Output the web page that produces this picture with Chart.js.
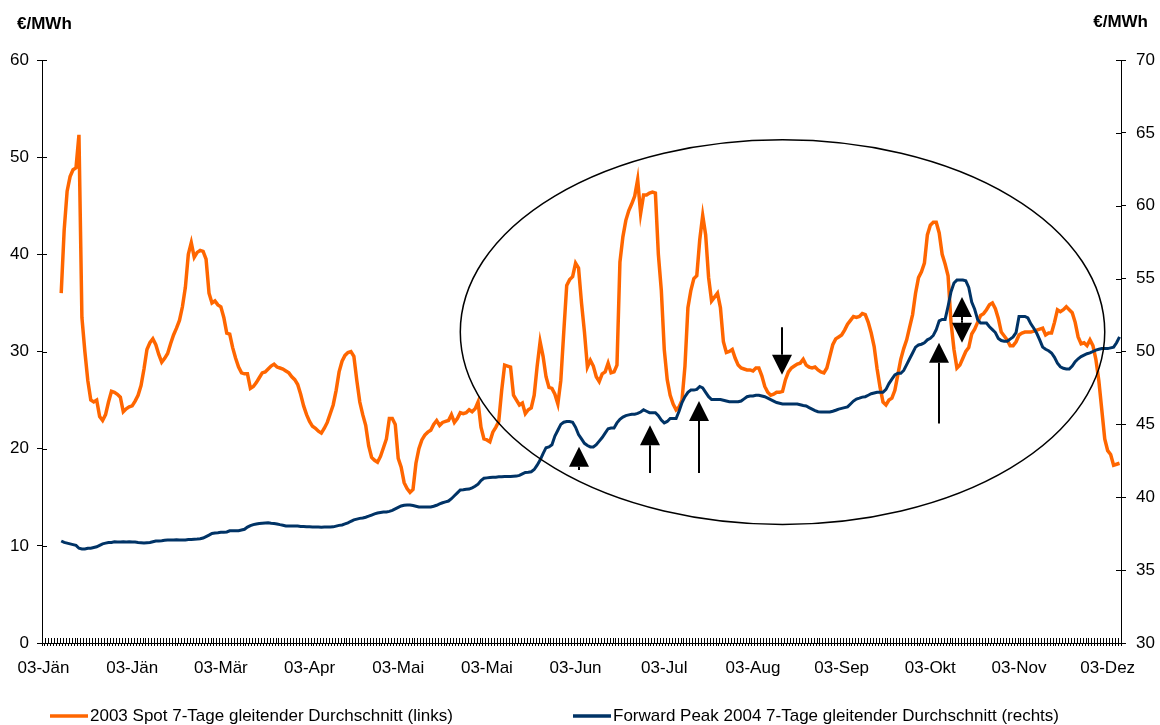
<!DOCTYPE html>
<html lang="de">
<head>
<meta charset="utf-8">
<title>Spot 2003 / Forward Peak 2004</title>
<script src="https://cdn.jsdelivr.net/npm/chart.js@4.4.1/dist/chart.umd.min.js"></script>
<style>
  html, body { margin: 0; padding: 0; background: #fff; }
  #chart-box { width: 1160px; height: 725px; }
</style>
</head>
<body>
<div id="chart-box"><canvas id="price-chart" width="1160" height="725"></canvas></div>
<script>
// x axis: one category per day, a label every 30 days
const tickLabels = ["03-Jän", "03-Jän", "03-Mär", "03-Apr", "03-Mai", "03-Mai", "03-Jun",
                    "03-Jul", "03-Aug", "03-Sep", "03-Okt", "03-Nov", "03-Dez"];
const labelStep = 30;
const dayCount = 365;
const leadDays = 6; // 7-day average has no value for the first days

// €/MWh, left axis
const spot2003 = [
  36.0, 42.5, 46.5, 48.0,
  48.7, 48.9, 52.3, 33.5, 30.0, 27.0, 25.0, 24.8, 25.0, 23.3,
  22.9, 23.5, 24.8, 25.9, 25.8, 25.6, 25.3, 23.8, 24.1, 24.3,
  24.4, 24.9, 25.5, 26.5, 28.2, 30.2, 30.9, 31.3, 30.7, 29.7,
  28.9, 29.3, 29.8, 30.8, 31.7, 32.4, 33.2, 34.6, 36.6, 40.0,
  41.2, 39.7, 40.2, 40.4, 40.3, 39.5, 36.0, 35.0, 35.2, 34.8,
  34.6, 33.5, 31.9, 31.8, 30.4, 29.3, 28.4, 27.8, 27.7, 27.7,
  26.2, 26.4, 26.8, 27.3, 27.8, 27.9, 28.2, 28.5, 28.7, 28.4,
  28.3, 28.2, 28.0, 27.8, 27.4, 27.1, 26.6, 25.6, 24.4, 23.5,
  22.8, 22.3, 22.1, 21.8, 21.6, 22.1, 22.7, 23.6, 24.5, 26.0,
  27.9, 29.0, 29.6, 29.9, 30.0, 29.5, 27.0, 24.8, 23.5, 22.4,
  20.3, 19.1, 18.8, 18.6, 19.2, 20.1, 21.0, 23.1, 23.1, 22.5,
  19.0, 18.1, 16.5, 15.9, 15.5, 15.8, 18.5, 20.0, 20.9, 21.4,
  21.7, 21.9, 22.5, 22.9, 22.4, 22.7, 22.8, 22.9, 23.5, 22.7,
  23.1, 23.7, 23.6, 23.7, 24.0, 23.8, 24.1, 24.8, 22.2, 21.0,
  20.9, 20.7, 21.7, 22.2, 22.8, 26.0, 28.6, 28.5, 28.4, 25.5,
  25.0, 24.5, 24.7, 23.6, 24.0, 24.2, 25.5, 28.5, 31.0, 29.5,
  27.4, 26.3, 26.2, 25.6, 24.6, 27.0, 32.0, 36.8, 37.4, 37.7,
  39.1, 38.6, 35.0, 32.0, 28.4, 29.1, 28.5, 27.4, 26.9, 27.7,
  27.9, 28.8, 27.8, 27.9, 28.6, 39.2, 41.8, 43.5, 44.5, 45.2,
  46.0, 47.7, 44.2, 46.1, 46.1, 46.3, 46.4, 46.3, 40.0, 36.3,
  30.2, 27.1, 25.5, 24.6, 24.0, 24.3, 25.0, 28.5, 34.5, 36.3,
  37.5, 37.8, 41.5, 44.0, 42.0, 37.6, 35.2, 35.6, 36.0, 34.5,
  31.0, 29.9, 30.0, 30.2, 29.3, 28.6, 28.3, 28.2, 28.1, 28.1,
  28.0, 28.3, 28.3, 27.5, 26.4, 25.8, 25.5, 25.6, 25.8, 25.8,
  25.9, 27.1, 27.9, 28.3, 28.5, 28.7, 28.8, 29.2, 28.6, 28.4,
  28.3, 28.4, 28.1, 27.9, 27.8, 28.3, 29.5, 30.7, 31.3, 31.5,
  31.7, 32.2, 32.8, 33.2, 33.6, 33.5, 33.6, 33.9, 33.8, 33.0,
  31.9, 30.5, 28.2, 26.3, 24.8, 24.5, 25.0, 25.2, 26.0, 27.6,
  29.2, 30.3, 31.2, 32.5, 33.8, 36.0, 37.6, 38.2, 39.1, 42.0,
  43.0, 43.3, 43.3, 42.2, 40.0, 39.0, 37.8, 33.0, 30.2, 28.3,
  28.6, 29.3, 30.0, 30.4, 31.8, 32.3, 33.0, 33.7, 33.9, 34.3,
  34.8, 35.0, 34.4, 33.4, 32.0, 31.6, 31.2, 30.6, 30.6, 31.0,
  31.7, 31.9, 32.0, 32.0, 32.0, 32.1, 32.2, 32.3, 32.4, 31.7,
  31.9, 31.9, 33.0, 34.3, 34.1, 34.3, 34.6, 34.3, 34.0, 33.0,
  31.5, 30.8, 30.9, 30.6, 31.2, 30.6, 29.2, 27.0, 24.0, 21.0,
  19.8, 19.4, 18.3, 18.4, 18.5
];

// €/MWh, right axis
const forwardPeak2004 = [
  37.0, 36.9, 36.85, 36.8,
  36.75, 36.7, 36.5, 36.45, 36.45, 36.5, 36.5, 36.55, 36.6, 36.7,
  36.8, 36.85, 36.9, 36.9, 36.95, 36.93, 36.93, 36.95, 36.93, 36.95,
  36.93, 36.93, 36.9, 36.88, 36.86, 36.88, 36.9, 36.95, 37.0, 37.0,
  37.02, 37.05, 37.07, 37.07, 37.07, 37.08, 37.07, 37.07, 37.07, 37.1,
  37.1, 37.12, 37.13, 37.15, 37.2, 37.3, 37.4, 37.52, 37.55, 37.57,
  37.6, 37.6, 37.62, 37.7, 37.7, 37.7, 37.7, 37.75, 37.8, 37.95,
  38.05, 38.12, 38.17, 38.2, 38.22, 38.24, 38.25, 38.22, 38.2, 38.17,
  38.12, 38.08, 38.03, 38.03, 38.03, 38.03, 38.03, 38.0, 38.0, 37.98,
  37.98, 37.96, 37.96, 37.96, 37.95, 37.96, 37.96, 37.96, 37.97, 38.02,
  38.07, 38.1, 38.17, 38.24, 38.35, 38.45, 38.5, 38.55, 38.58, 38.63,
  38.7, 38.78, 38.86, 38.92, 38.95, 38.98, 38.99, 39.03, 39.1, 39.2,
  39.3, 39.4, 39.45, 39.47, 39.47, 39.43, 39.38, 39.33, 39.33, 39.33,
  39.33, 39.33, 39.38, 39.45, 39.54, 39.62, 39.68, 39.74, 39.9, 40.1,
  40.3, 40.5, 40.52, 40.55, 40.56, 40.65, 40.75, 40.9, 41.15, 41.3,
  41.33, 41.35, 41.37, 41.38, 41.4, 41.4, 41.42, 41.42, 41.43, 41.44,
  41.45, 41.5, 41.6, 41.7, 41.72, 41.75, 41.9, 42.2, 42.55, 43.0,
  43.4, 43.45, 43.6, 44.2, 44.6, 45.0, 45.15, 45.2, 45.2, 45.15,
  44.8, 44.3, 44.0, 43.7, 43.55, 43.45, 43.45, 43.6, 43.85, 44.1,
  44.4, 44.7, 44.75, 44.75, 45.1, 45.35, 45.5, 45.6, 45.65, 45.7,
  45.7, 45.75, 45.85, 46.0, 45.9, 45.8, 45.8, 45.8, 45.6, 45.3,
  45.1, 45.2, 45.4, 45.4, 45.4, 45.9, 46.5, 46.9, 47.2, 47.35,
  47.35, 47.4, 47.6, 47.5, 47.2, 46.9, 46.7, 46.7, 46.7, 46.7,
  46.65, 46.6, 46.55, 46.55, 46.55, 46.55, 46.6, 46.75, 46.9, 46.95,
  46.95, 47.0, 47.0, 46.95, 46.9, 46.8, 46.7, 46.6, 46.5, 46.45,
  46.4, 46.4, 46.4, 46.4, 46.4, 46.4, 46.35, 46.3, 46.26, 46.15,
  46.05, 45.95, 45.87, 45.85, 45.85, 45.85, 45.85, 45.9, 45.97, 46.05,
  46.1, 46.15, 46.2, 46.4, 46.6, 46.74, 46.8, 46.87, 46.9, 47.0,
  47.1, 47.15, 47.2, 47.2, 47.2, 47.4, 47.8, 48.1, 48.4, 48.5,
  48.5, 48.7, 49.1, 49.5, 49.9, 50.3, 50.45, 50.5, 50.6, 50.8,
  50.9, 51.1, 51.5, 52.1, 52.2, 52.2, 53.1, 54.1, 54.7, 54.9,
  54.9, 54.9, 54.85, 54.4, 53.4, 52.9, 52.2, 51.95, 51.95, 51.95,
  51.7, 51.5, 51.3, 50.9, 50.75, 50.7, 50.7, 50.85, 51.0, 51.3,
  52.4, 52.4, 52.4, 52.3, 51.9, 51.6, 51.25, 50.8, 50.3, 50.15,
  50.05, 49.9, 49.6, 49.2, 48.95, 48.85, 48.8, 48.8, 49.0, 49.3,
  49.5, 49.65, 49.75, 49.85, 49.9, 50.0, 50.1, 50.15, 50.2, 50.2,
  50.2, 50.25, 50.3, 50.6, 51.0
];

const seriesNames = ["2003 Spot 7-Tage gleitender Durchschnitt (links)",
                     "Forward Peak 2004 7-Tage gleitender Durchschnitt (rechts)"];

// markers, in day index and €/MWh on the left axis
const ringCenter = [250, 32.0];
const ringRadius = [109, 19.8];
const arrowMarks = [
  [181.1, 17.8, 20.2],
  [205.3, 17.5, 22.4],
  [221.7, 17.5, 24.9],
  [249.7, 32.5, 27.6],
  [302.8, 22.6, 30.9],
  [310.6, 33.2, 35.6],
  [310.6, 33.2, 30.9]
];

const fontFamily = "'Liberation Sans', Arial, sans-serif";
const legendX = [50, 573];

const days = Array.from({ length: dayCount }, (_, i) =>
  i % labelStep === 0 ? tickLabels[i / labelStep] : "");
const padStart = Array(leadDays).fill(null);

function drawArrow(ctx, x, yFrom, yTo) {
  const dir = yTo < yFrom ? 1 : -1;
  const head = 20, half = 10;
  ctx.beginPath();
  ctx.moveTo(x, yFrom);
  ctx.lineTo(x, yTo + dir * head);
  ctx.stroke();
  ctx.beginPath();
  ctx.moveTo(x, yTo);
  ctx.lineTo(x - half, yTo + dir * head);
  ctx.lineTo(x + half, yTo + dir * head);
  ctx.closePath();
  ctx.fill();
}

const extras = {
  id: "extras",
  beforeDatasetsDraw(chart) {
    // tick marks cross the axis lines, draw the inner half here
    const { ctx, chartArea: area, scales } = chart;
    const xs = scales.x;
    ctx.save();
    ctx.strokeStyle = "#000";
    ctx.lineWidth = 1;
    ctx.beginPath();
    for (let i = 0; i <= xs.ticks.length; i++) {
      const px = Math.round(xs.getPixelForValue(i - 0.5)) + 0.5;
      ctx.moveTo(px, area.bottom);
      ctx.lineTo(px, area.bottom - 5);
    }
    scales.y.ticks.forEach((t, i) => {
      const py = Math.round(scales.y.getPixelForTick(i)) + 0.5;
      ctx.moveTo(area.left, py);
      ctx.lineTo(area.left + 5, py);
    });
    scales.y1.ticks.forEach((t, i) => {
      const py = Math.round(scales.y1.getPixelForTick(i)) + 0.5;
      ctx.moveTo(area.right, py);
      ctx.lineTo(area.right - 5, py);
    });
    ctx.stroke();
    ctx.restore();
  },
  afterDatasetsDraw(chart) {
    const { ctx, scales } = chart;
    const x = scales.x, y = scales.y;
    ctx.save();
    ctx.strokeStyle = "#000";
    ctx.fillStyle = "#000";

    const cx = x.getPixelForValue(ringCenter[0]);
    const cy = y.getPixelForValue(ringCenter[1]);
    const rx = x.getPixelForValue(ringCenter[0] + ringRadius[0]) - cx;
    const ry = cy - y.getPixelForValue(ringCenter[1] + ringRadius[1]);
    ctx.lineWidth = 1.5;
    ctx.beginPath();
    ctx.ellipse(cx, cy, rx, ry, 0, 0, Math.PI * 2);
    ctx.stroke();

    ctx.lineWidth = 2;
    arrowMarks.forEach(([day, from, to]) => {
      drawArrow(ctx, Math.round(x.getPixelForValue(day)), y.getPixelForValue(from), y.getPixelForValue(to));
    });
    ctx.restore();
  },
  afterDraw(chart) {
    const { ctx } = chart;
    ctx.save();
    ctx.fillStyle = "#000";
    ctx.textBaseline = "middle";
    ctx.font = "bold 17px " + fontFamily;
    ctx.textAlign = "left";
    ctx.fillText("€/MWh", 17, 24);
    ctx.textAlign = "right";
    ctx.fillText("€/MWh", 1148, 22);

    // legend
    ctx.font = "17px " + fontFamily;
    ctx.textAlign = "left";
    chart.data.datasets.forEach((ds, k) => {
      const x0 = legendX[k], yl = 716;
      ctx.strokeStyle = ds.borderColor;
      ctx.lineWidth = 3.5;
      ctx.beginPath();
      ctx.moveTo(x0, yl);
      ctx.lineTo(x0 + 38, yl);
      ctx.stroke();
      ctx.fillText(ds.label, x0 + 40, yl);
    });
    ctx.restore();
  }
};

const tickFont = { family: fontFamily, size: 17 };

const priceChart = new Chart(document.getElementById("price-chart"), {
  type: "line",
  data: {
    labels: days,
    datasets: [{
      label: seriesNames[0],
      data: padStart.concat(spot2003),
      borderColor: "#ff6600",
      borderWidth: 3.5,
      pointRadius: 0,
      tension: 0,
      fill: false,
      yAxisID: "y",
      order: 1
    }, {
      label: seriesNames[1],
      data: padStart.concat(forwardPeak2004),
      borderColor: "#003366",
      borderWidth: 3,
      pointRadius: 0,
      tension: 0,
      fill: false,
      yAxisID: "y1",
      order: 0
    }]
  },
  options: {
    responsive: false,
    animation: false,
    devicePixelRatio: 1,
    layout: { padding: { top: 60, left: 0, right: 0, bottom: 0 } },
    plugins: {
      legend: { display: false },
      tooltip: { enabled: false }
    },
    scales: {
      x: {
        type: "category",
        offset: true,
        grid: { offset: true, drawOnChartArea: false, color: "#000", tickLength: 3 },
        border: { color: "#000", width: 1 },
        ticks: { autoSkip: false, maxRotation: 0, minRotation: 0, padding: 12, color: "#000", font: tickFont },
        afterFit(scale) { scale.height = 82; }
      },
      y: {
        position: "left",
        min: 0,
        max: 60,
        grid: { drawOnChartArea: false, color: "#000", tickLength: 5 },
        border: { color: "#000", width: 1 },
        ticks: { stepSize: 10, padding: 8, color: "#000", font: tickFont },
        afterFit(scale) { scale.width = 42; }
      },
      y1: {
        position: "right",
        min: 30,
        max: 70,
        grid: { drawOnChartArea: false, color: "#000", tickLength: 5 },
        border: { color: "#000", width: 1 },
        ticks: { stepSize: 5, padding: 10, color: "#000", font: tickFont },
        afterFit(scale) { scale.width = 39; }
      }
    }
  },
  plugins: [extras]
});
</script>
</body>
</html>
